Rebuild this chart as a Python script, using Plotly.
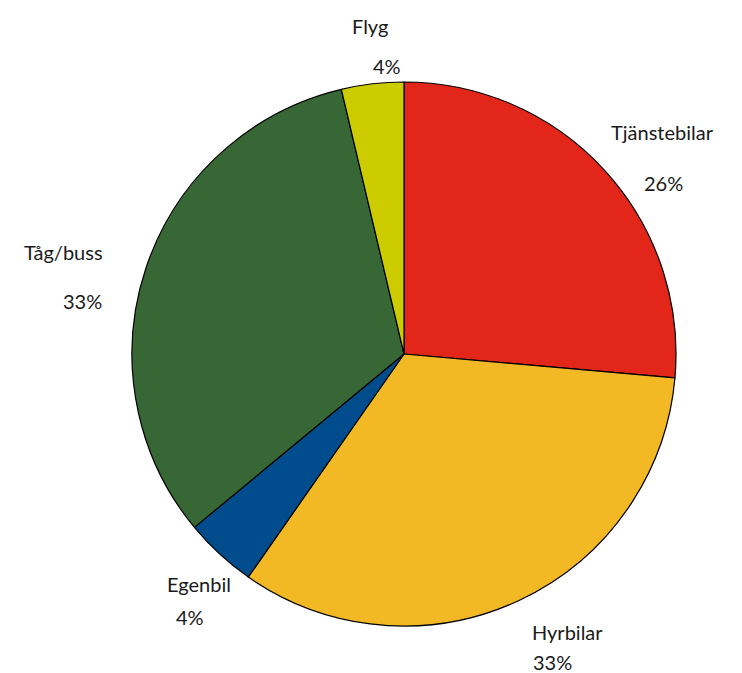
import plotly.graph_objects as go

categories = ["Tjänstebilar", "Hyrbilar", "Egenbil", "Tåg/buss", "Flyg"]
values = [26.4, 33.3, 4.3, 32.3, 3.7]
pct_labels = ["26%", "33%", "4%", "33%", "4%"]
colors = ["#E3261A", "#F2B925", "#004C8C", "#366734", "#CCCC00"]

# the page body adds an 8px margin, so the figure is drawn 8px smaller and offset
OFF = 8
W, H = 742 - OFF, 673 - OFF
cx, cy, r = 404 - OFF, 354 - OFF, 272

fig = go.Figure(go.Pie(
    labels=categories,
    values=values,
    sort=False,
    direction="clockwise",
    rotation=0,
    marker=dict(colors=colors, line=dict(color="black", width=1.2)),
    textinfo="none",
    hoverinfo="label+percent",
    domain=dict(x=[(cx - r) / W, (cx + r) / W], y=[(H - cy - r) / H, (H - cy + r) / H]),
    showlegend=False,
))

# label positions (pixel centres in the reference) for name and percentage
label_pos = {
    "Tjänstebilar": ((662, 132), (663, 183)),
    "Hyrbilar": ((567, 632), (552, 662)),
    "Egenbil": ((199, 584), (190, 617)),
    "Tåg/buss": ((63, 252), (82, 301)),
    "Flyg": ((370, 26), (387, 66)),
}
font = dict(family="Lato, 'DejaVu Sans', sans-serif", size=20, color="#1a1a1a")
for cat, pct in zip(categories, pct_labels):
    (nx, ny), (px, py) = label_pos[cat]
    fig.add_annotation(x=(nx - OFF) / W, y=1 - (ny - OFF) / H, xref="paper", yref="paper", text=cat,
                       showarrow=False, font=font, xanchor="center", yanchor="middle")
    fig.add_annotation(x=(px - OFF) / W, y=1 - (py - OFF) / H, xref="paper", yref="paper", text=pct,
                       showarrow=False, font=font, xanchor="center", yanchor="middle")

fig.update_layout(
    width=W, height=H,
    margin=dict(l=0, r=0, t=0, b=0),
    paper_bgcolor="white",
    plot_bgcolor="white",
)
fig.write_html("out.html")
